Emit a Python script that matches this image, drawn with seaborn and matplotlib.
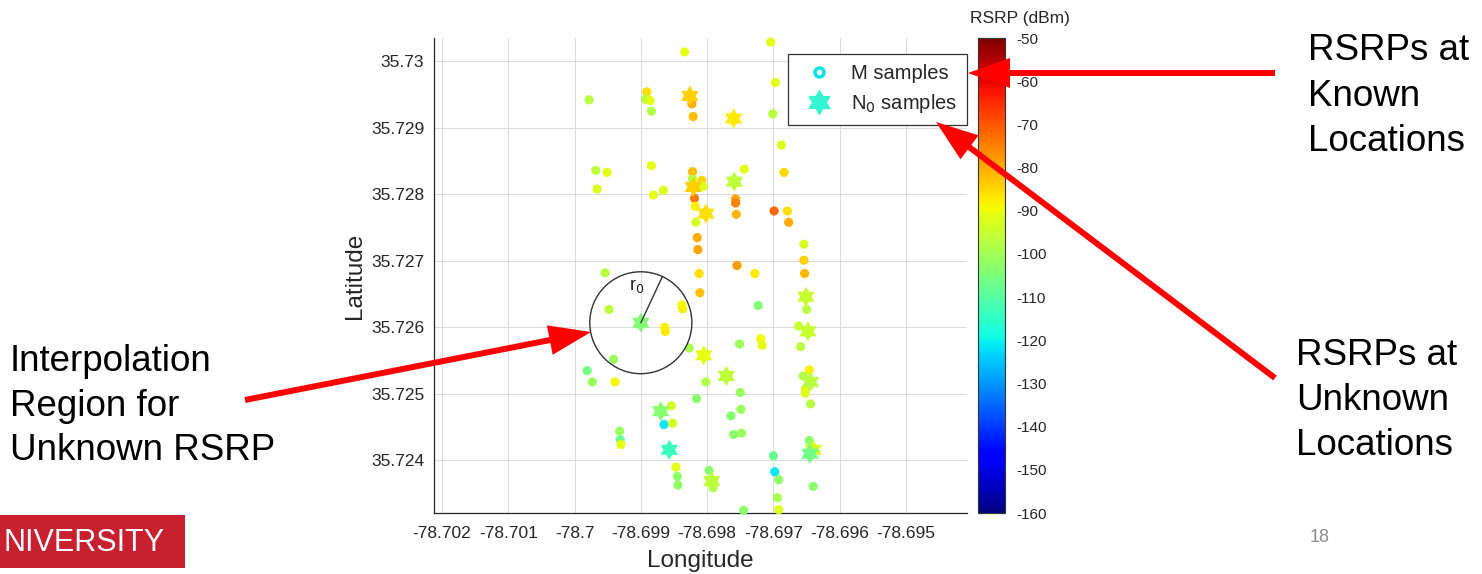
import numpy as np
import pandas as pd
import matplotlib
matplotlib.use("Agg")
import matplotlib.pyplot as plt
import seaborn as sns
from matplotlib.path import Path
from matplotlib.markers import MarkerStyle
from matplotlib.patches import FancyArrow, Rectangle, Ellipse
from matplotlib.lines import Line2D
from matplotlib.colors import Normalize
from matplotlib.cm import ScalarMappable

# ---------------- data ----------------
m_lon = [-78.69978, -78.69834, -78.69704, -78.69891, -78.69893, -78.69886, -78.69884, -78.69823,
         -78.69821, -78.69697, -78.69701, -78.69688, -78.69744, -78.69684, -78.69968, -78.69951,
         -78.69966, -78.69884, -78.69881, -78.69866, -78.69822, -78.69822, -78.69808, -78.69806,
         -78.69819, -78.69818, -78.69817, -78.69815, -78.69814, -78.69812, -78.69811, -78.69757,
         -78.69757, -78.69756, -78.69755, -78.69728, -78.69699, -78.69679, -78.69677, -78.69654,
         -78.69654, -78.69653, -78.69650, -78.69662, -78.69659, -78.69723, -78.69719, -78.69717,
         -78.69751, -78.69954, -78.69948, -78.69838, -78.69837, -78.69864, -78.69863, -78.69827,
         -78.69941, -78.69981, -78.69973, -78.69939, -78.69854, -78.69865, -78.69852, -78.69932,
         -78.69931, -78.69930, -78.69847, -78.69845, -78.69844, -78.69816, -78.69802, -78.69750,
         -78.69749, -78.69764, -78.69760, -78.69748, -78.69646, -78.69655, -78.69652, -78.69652,
         -78.69644, -78.69646, -78.69700, -78.69698, -78.69692, -78.69694, -78.69692, -78.69640,
         -78.69797, -78.69791, -78.69745]
m_lat = [35.72942, 35.73014, 35.73029, 35.72954, 35.72943, 35.72941, 35.72925, 35.72936,
         35.72917, 35.72968, 35.72921, 35.72874, 35.72838, 35.72833, 35.72836, 35.72833,
         35.72808, 35.72843, 35.72799, 35.72806, 35.72834, 35.72823, 35.72821, 35.72812,
         35.72794, 35.72782, 35.72758, 35.72735, 35.72717, 35.72681, 35.72652, 35.72793,
         35.72787, 35.72770, 35.72693, 35.72681, 35.72775, 35.72775, 35.72758, 35.72725,
         35.72701, 35.72681, 35.72627, 35.72602, 35.72571, 35.72633, 35.72583, 35.72573,
         35.72575, 35.72682, 35.72627, 35.72634, 35.72628, 35.72600, 35.72594, 35.72569,
         35.72552, 35.72535, 35.72518, 35.72518, 35.72482, 35.72454, 35.72456, 35.72444,
         35.72431, 35.72424, 35.72390, 35.72376, 35.72363, 35.72493, 35.72518, 35.72502,
         35.72477, 35.72467, 35.72439, 35.72441, 35.72536, 35.72527, 35.72507, 35.72501,
         35.72485, 35.72430, 35.72407, 35.72383, 35.72371, 35.72344, 35.72326, 35.72361,
         35.72385, 35.72359, 35.72325]
m_rsrp = [-97, -91, -91, -86, -97, -91, -98, -80,
          -82, -91, -97, -92, -91, -85, -96, -91,
          -92, -91, -91, -92, -82, -97, -85, -92,
          -74, -88, -93, -80, -79, -86, -82, -79,
          -75, -81, -78, -87, -72, -86, -80, -93,
          -84, -81, -97, -95, -96, -104, -89, -91,
          -101, -97, -96, -90, -88, -88, -87, -99,
          -101, -106, -101, -89, -93, -121, -93, -101,
          -108, -91, -91, -102, -102, -103, -98, -101,
          -101, -103, -103, -101, -88, -98, -92, -92,
          -97, -103, -108, -121, -102, -99, -92, -103,
          -103, -98, -103]

n0_lon = [-78.69826, -78.69760, -78.69821, -78.69759, -78.69802, -78.69900, -78.69651, -78.69648,
          -78.69805, -78.69771, -78.69644, -78.69870, -78.69857, -78.69793, -78.69640, -78.69645]
n0_lat = [35.72948, 35.72914, 35.72811, 35.72819, 35.72771, 35.72607, 35.72646, 35.72594,
          35.72558, 35.72527, 35.72518, 35.72474, 35.72416, 35.72369, 35.72416, 35.72410]
n0_rsrp = [-84, -87, -84, -96, -86, -104, -95, -95,
           -91, -96, -97, -103, -114, -96, -93, -106]

x_ticks = [-78.702, -78.701, -78.700, -78.699, -78.698, -78.697, -78.696, -78.695]
x_tick_labels = ["-78.702", "-78.701", "-78.7", "-78.699", "-78.698", "-78.697", "-78.696", "-78.695"]
y_ticks = [35.724, 35.725, 35.726, 35.727, 35.728, 35.729, 35.730]
y_tick_labels = ["35.724", "35.725", "35.726", "35.727", "35.728", "35.729", "35.73"]
cbar_ticks = [-160, -150, -140, -130, -120, -110, -100, -90, -80, -70, -60, -50]
rsrp_range = (-160, -50)

circle_center = (-78.69900, 35.72607)
circle_radius = (0.00077, 0.000766)

# ---------------- style ----------------
sns.set_style("white")
plt.rcParams['font.family'] = ['Liberation Sans', 'DejaVu Sans']
plt.rcParams['axes.unicode_minus'] = False

jet = matplotlib.colormaps["jet"]

W, H = 1482, 574
fig = plt.figure(figsize=(W / 100, H / 100), dpi=100)
fig.patch.set_facecolor("white")

ax_l, ax_r, ax_t, ax_b = 434, 967, 38, 513
ax = fig.add_axes([ax_l / W, 1 - ax_b / H, (ax_r - ax_l) / W, (ax_b - ax_t) / H])

dfm = pd.DataFrame({"lon": m_lon, "lat": m_lat, "rsrp": m_rsrp})
dfn = pd.DataFrame({"lon": n0_lon, "lat": n0_lat, "rsrp": n0_rsrp})

sns.scatterplot(data=dfm, x="lon", y="lat", hue="rsrp", palette=jet, hue_norm=rsrp_range,
                s=13, marker="o", legend=False, ax=ax, zorder=3, clip_on=False)
coll = ax.collections[-1]
fc = coll.get_facecolors()
coll.set_edgecolors(fc)
coll.set_facecolors("none")
coll.set_linewidths(3.0)

hexagram = MarkerStyle(Path.unit_regular_star(6, 0.577))
sns.scatterplot(data=dfn, x="lon", y="lat", hue="rsrp", palette=jet, hue_norm=rsrp_range,
                s=210, marker=hexagram, linewidth=0, legend=False, ax=ax, zorder=4)

# interpolation circle
ax.add_patch(Ellipse(circle_center, 2 * circle_radius[0], 2 * circle_radius[1],
                     fill=False, ec="#333333", lw=1.0, zorder=5))
ang = np.deg2rad(65)
ax.plot([circle_center[0], circle_center[0] + circle_radius[0] * np.cos(ang)],
        [circle_center[1], circle_center[1] + circle_radius[1] * np.sin(ang)],
        color="#333333", lw=1.0, zorder=5)
ax.text(-78.69906, 35.72662, "r$_0$", fontsize=13, ha="center", va="center", color="#222222")

ax.set_xlim(-78.70212, -78.69408)
ax.set_ylim(35.72321, 35.73035)
ax.set_xticks(x_ticks)
ax.set_xticklabels(x_tick_labels)
ax.set_yticks(y_ticks)
ax.set_yticklabels(y_tick_labels)
ax.tick_params(direction="in", length=5, width=0.8, colors="#262626", labelsize=12.5)
ax.tick_params(axis="x", pad=9)
ax.tick_params(axis="y", pad=7)
ax.grid(True, color="#dcdcdc", lw=0.8)
ax.set_axisbelow(True)
for s in ["top", "right"]:
    ax.spines[s].set_visible(False)
for s in ["left", "bottom"]:
    ax.spines[s].set_color("#262626")
    ax.spines[s].set_linewidth(0.9)

ax.set_xlabel("Longitude", fontsize=17.5, color="#262626")
ax.set_ylabel("Latitude", fontsize=17.5, color="#262626")
ax.xaxis.set_label_coords(0.5, -(561 - ax_b) / (ax_b - ax_t))
ax.xaxis.label.set_verticalalignment("center")
ax.yaxis.set_label_coords((355 - ax_l) / (ax_r - ax_l), 0.5)
ax.yaxis.label.set_verticalalignment("center")

# legend
handles = [
    Line2D([], [], marker="o", linestyle="", markerfacecolor="none", markeredgecolor="#00e3e3",
           markeredgewidth=2.5, markersize=6.5),
    Line2D([], [], marker=hexagram, linestyle="", color="#33f5d2", markersize=17),
]
leg = ax.legend(handles, ["M samples", "N$_0$ samples"], loc="upper right",
                bbox_to_anchor=(1.0, 1 - (54 - ax_t) / (ax_b - ax_t)), borderaxespad=0,
                fontsize=14.5, frameon=True, fancybox=False, framealpha=1,
                edgecolor="#333333", handletextpad=0.6, borderpad=0.5, labelspacing=0.45)
leg.get_frame().set_linewidth(0.9)
leg.set_zorder(6)

# colorbar
cax = fig.add_axes([978 / W, 1 - ax_b / H, 27 / W, (ax_b - ax_t) / H])
sm = ScalarMappable(norm=Normalize(*rsrp_range), cmap=jet)
cb = fig.colorbar(sm, cax=cax, ticks=cbar_ticks)
cb.ax.tick_params(labelsize=11, direction="in", length=4, colors="#262626",
                  left=True, right=True, pad=8)
cb.outline.set_edgecolor("#333333")
cb.outline.set_linewidth(0.8)

# ---------------- slide overlay ----------------
ov = fig.add_axes([0, 0, 1, 1], zorder=20)
ov.set_xlim(0, W)
ov.set_ylim(H, 0)
ov.axis("off")

ov.text(1020, 18, "RSRP (dBm)", fontsize=12.5, ha="center", va="center", color="#262626")

arrow_kw = dict(width=6, head_width=30, head_length=42, length_includes_head=True,
                color="#ff0000", lw=0)
ov.add_patch(FancyArrow(1275, 73, 968 - 1275, 0, **arrow_kw))
ov.add_patch(FancyArrow(1275, 378, 936 - 1275, 122 - 378, **arrow_kw))
ov.add_patch(FancyArrow(245, 400, 591 - 245, 332 - 400, **arrow_kw))

tfs = 26.5
for txt, x, y in [("RSRPs at", 1308, 60), ("Known", 1308, 106), ("Locations", 1308, 151),
                  ("Interpolation", 10, 371), ("Region for", 10, 416), ("Unknown RSRP", 10, 460),
                  ("RSRPs at", 1296, 365), ("Unknown", 1296, 410), ("Locations", 1296, 455)]:
    ov.text(x, y, txt, fontsize=tfs, ha="left", va="baseline", color="black")

ov.add_patch(Rectangle((0, 515), 185, 53, color="#c8202f", lw=0))
ov.text(3, 543, "NIVERSITY", fontsize=22, ha="left", va="center", color="white")
ov.text(1320, 537, "18", fontsize=13, ha="center", va="center", color="#8c8c8c")

fig.savefig("out.png", dpi=100, facecolor="white")
